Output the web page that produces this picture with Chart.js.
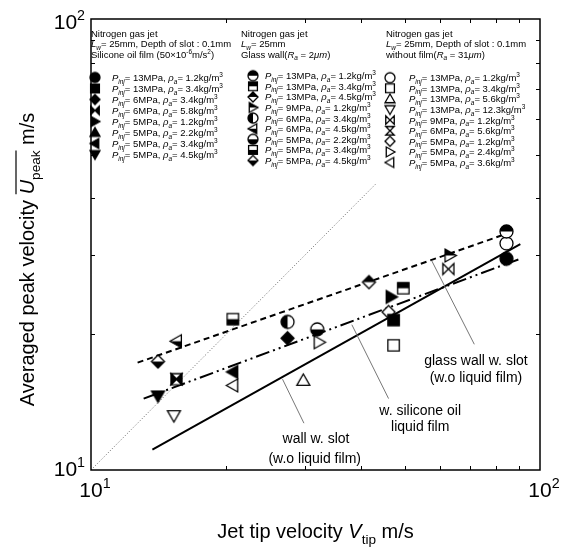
<!DOCTYPE html>
<html>
<head>
<meta charset="utf-8">
<script src="https://cdn.jsdelivr.net/npm/chart.js@4.4.0/dist/chart.umd.min.js"></script>
<style>
  html, body { margin: 0; padding: 0; background: #fff; }
</style>
</head>
<body>
<canvas id="c" width="563" height="548"></canvas>
<script>
// Silicone oil film (filled symbols)
const silPinj = ['13', '13', '6', '6', '5', '5', '5', '5'];
const silRho = ['1.2', '3.4', '3.4', '5.8', '1.2', '2.2', '3.4', '4.5'];
const silVtip = [84.2, 47.2, 27.4, 15.5, 46.6, null, 20.7, 14.1];
const silUpeak = [29.4, 21.5, 19.6, 15.9, 24.2, null, 16.5, 14.6];

// Glass wall (half filled symbols)
const glsPinj = ['13', '13', '13', '9', '6', '6', '5', '5', '5'];
const glsRho = ['1.2', '3.4', '4.5', '1.2', '3.4', '4.5', '2.2', '3.4', '4.5'];
const glsVtip = [84.2, 49.6, 41.6, 63.0, 27.4, 15.5, 31.9, 20.7, 14.1];
const glsUpeak = [33.8, 25.3, 26.1, 29.9, 21.3, 19.3, 20.5, 21.6, 17.4];

// Without film (open symbols)
const wofPinj = ['13', '13', '13', '13', '9', '6', '5', '5', '5'];
const wofRho = ['1.2', '3.4', '5.6', '12.3', '1.2', '5.6', '1.2', '2.4', '3.6'];
const wofVtip = [84.2, 47.2, 29.7, 15.3, 62.5, 15.5, 46.0, 32.2, 20.7];
const wofUpeak = [31.8, 18.9, 15.8, 13.2, 27.9, 15.9, 22.4, 19.2, 15.4];

// fitted lines
const fitGlassX = [12.7, 82.0], fitGlassY = [17.3, 33.1];
const fitSilX = [13.1, 89.5], fitSilY = [14.4, 29.3];
const fitWallX = [13.7, 90.4], fitWallY = [11.1, 31.7];
const parityX = [10, 43], parityY = [10, 43];

// annotation leaders (data coords)
const leadGlassX = [57.4, 71.4], leadGlassY = [29.1, 19.0];
const leadSilX = [38.1, 46.0], leadSilY = [21.0, 14.4];
const leadWallX = [26.7, 29.8], leadWallY = [15.9, 12.7];

const FAM = '"Liberation Sans", Arial, sans-serif';

// symbol shapes per group
const silShapes = [['circle','full'],['square','full'],['diamond','full'],['bowtie','full'],['triRight','full'],['triUp','full'],['triLeft','full'],['triDown','full']];
const glsShapes = [['circle','top'],['square','top'],['diamond','top'],['triRight','top'],['circle','left'],['triLeft','bottom'],['circle','bottom'],['square','bottom'],['diamond','bottom']];
const wofShapes = [['circle','none'],['square','none'],['triUp','none'],['triDown','none'],['bowtie','none'],['hourglass','none'],['diamond','none'],['triRight','none'],['triLeft','none']];

function shapePath(g, shape, m, r) {
  g.beginPath();
  if (shape === 'circle') {
    g.arc(m, m, r, 0, Math.PI * 2);
  } else if (shape === 'square') {
    const a = r * 0.88;
    g.rect(m - a, m - a, 2 * a, 2 * a);
  } else if (shape === 'diamond') {
    g.moveTo(m, m - r); g.lineTo(m + r, m); g.lineTo(m, m + r); g.lineTo(m - r, m); g.closePath();
  } else if (shape === 'triUp') {
    g.moveTo(m, m - r); g.lineTo(m + r, m + r * 0.75); g.lineTo(m - r, m + r * 0.75); g.closePath();
  } else if (shape === 'triDown') {
    g.moveTo(m, m + r); g.lineTo(m + r, m - r * 0.75); g.lineTo(m - r, m - r * 0.75); g.closePath();
  } else if (shape === 'triLeft') {
    g.moveTo(m - r, m); g.lineTo(m + r * 0.75, m - r); g.lineTo(m + r * 0.75, m + r); g.closePath();
  } else if (shape === 'triRight') {
    g.moveTo(m + r, m); g.lineTo(m - r * 0.75, m - r); g.lineTo(m - r * 0.75, m + r); g.closePath();
  } else if (shape === 'bowtie') {
    const a = r * 0.85;
    g.moveTo(m - a, m - a); g.lineTo(m, m); g.lineTo(m - a, m + a); g.closePath();
    g.moveTo(m + a, m - a); g.lineTo(m, m); g.lineTo(m + a, m + a); g.closePath();
  } else if (shape === 'hourglass') {
    const a = r * 0.85;
    g.moveTo(m - a, m - a); g.lineTo(m + a, m - a); g.lineTo(m, m); g.closePath();
    g.moveTo(m - a, m + a); g.lineTo(m + a, m + a); g.lineTo(m, m); g.closePath();
  }
}

function makeMarker(shape, fill, size) {
  const c = document.createElement('canvas');
  c.width = c.height = size + 4;
  const g = c.getContext('2d');
  const m = c.width / 2, r = size / 2;
  shapePath(g, shape, m, r);
  g.fillStyle = fill === 'full' ? '#000' : '#fff';
  g.fill();
  if (fill !== 'full' && fill !== 'none') {
    g.save();
    shapePath(g, shape, m, r);
    g.clip();
    g.fillStyle = '#000';
    if (fill === 'top') g.fillRect(0, 0, c.width, m);
    if (fill === 'bottom') g.fillRect(0, m, c.width, c.height);
    if (fill === 'left') g.fillRect(0, 0, m, c.height);
    g.restore();
  }
  shapePath(g, shape, m, r);
  g.lineWidth = 1.3;
  g.strokeStyle = '#000';
  g.stroke();
  return c;
}

function pointDatasets(xs, ys, shapes) {
  return xs.map((x, i) => ({
    type: 'scatter',
    data: x == null ? [] : [{ x: x, y: ys[i] }],
    pointStyle: makeMarker(shapes[i][0], shapes[i][1], 13),
    order: 0
  }));
}

function lineDataset(xs, ys, dash, width, color) {
  return {
    type: 'line',
    data: xs.map((x, i) => ({ x: x, y: ys[i] })),
    borderColor: color,
    borderWidth: width,
    borderDash: dash,
    pointRadius: 0,
    fill: false,
    order: 5
  };
}

// rich text: segments [text, flags] flags: i italic, b sub, p sup, o overline
function drawRich(ctx, segs, x, y, size, align) {
  const parts = segs.map(([t, f = '']) => {
    const small = f.includes('b') || f.includes('p');
    const fs = small ? size * 0.68 : size;
    const font = (f.includes('i') ? 'italic ' : '') + fs + 'px ' + FAM;
    ctx.font = font;
    return { t, f, font, w: ctx.measureText(t).width,
      dy: f.includes('b') ? size * 0.28 : f.includes('p') ? -size * 0.42 : 0 };
  });
  const total = parts.reduce((a, p) => a + p.w, 0);
  let cx = align === 'center' ? x - total / 2 : align === 'right' ? x - total : x;
  ctx.textAlign = 'left';
  ctx.textBaseline = 'alphabetic';
  parts.forEach(p => {
    ctx.font = p.font;
    ctx.fillText(p.t, cx, y + p.dy);
    if (p.f.includes('o')) {
      ctx.save();
      ctx.lineWidth = 1.2;
      ctx.beginPath();
      ctx.moveTo(cx, y - size * 0.9);
      ctx.lineTo(cx + p.w, y - size * 0.9);
      ctx.stroke();
      ctx.restore();
    }
    cx += p.w;
  });
}

function entrySegs(p, rho) {
  return [['P', 'i'], ['inj', 'ib'], ['= ' + p + 'MPa, ', ''], ['ρ', 'i'], ['a', 'ib'], ['= ' + rho + 'kg/m', ''], ['3', 'p']];
}

const legendCols = [
  { hx: 91, sx: 95, tx: 112, y0: 77.5, dy: 11.0, pinj: silPinj, rho: silRho, shapes: silShapes,
    head: [[['Nitrogen gas jet', '']],
           [['L', 'i'], ['w', 'ib'], ['= 25mm, Depth of slot : 0.1mm', '']],
           [['Silicone oil film (50×10', ''], ['-6', 'p'], ['m/s', ''], ['2', 'p'], [')', '']]] },
  { hx: 241, sx: 253, tx: 265, y0: 75.7, dy: 10.6, pinj: glsPinj, rho: glsRho, shapes: glsShapes,
    head: [[['Nitrogen gas jet', '']],
           [['L', 'i'], ['w', 'ib'], ['= 25mm', '']],
           [['Glass wall(', ''], ['R', 'i'], ['a', 'ib'], [' = 2', ''], ['μm', 'i'], [')', '']]] },
  { hx: 386, sx: 390, tx: 409, y0: 77.7, dy: 10.6, pinj: wofPinj, rho: wofRho, shapes: wofShapes,
    head: [[['Nitrogen gas jet', '']],
           [['L', 'i'], ['w', 'ib'], ['= 25mm, Depth of slot : 0.1mm', '']],
           [['without film(', ''], ['R', 'i'], ['a', 'ib'], [' = 31', ''], ['μm', 'i'], [')', '']]] }
];

const deco = {
  id: 'deco',
  beforeDraw(chart) {
    const ctx = chart.ctx;
    ctx.save();
    ctx.fillStyle = '#fff';
    ctx.fillRect(0, 0, chart.width, chart.height);
    ctx.restore();
  },
  afterDraw(chart) {
    const ctx = chart.ctx;
    const a = chart.chartArea;
    const xs = chart.scales.x, ys = chart.scales.y;
    ctx.save();
    ctx.fillStyle = '#000';
    ctx.strokeStyle = '#000';

    // frame
    ctx.lineWidth = 1.5;
    ctx.strokeRect(a.left, a.top, a.right - a.left, a.bottom - a.top);

    // minor ticks
    ctx.lineWidth = 1;
    for (let v = 20; v <= 90; v += 10) {
      const px = Math.round(xs.getPixelForValue(v)) + 0.5;
      const py = Math.round(ys.getPixelForValue(v)) + 0.5;
      ctx.beginPath();
      ctx.moveTo(px, a.bottom); ctx.lineTo(px, a.bottom - 4);
      ctx.moveTo(px, a.top); ctx.lineTo(px, a.top + 4);
      ctx.moveTo(a.left, py); ctx.lineTo(a.left + 4, py);
      ctx.moveTo(a.right, py); ctx.lineTo(a.right - 4, py);
      ctx.stroke();
    }

    // tick labels
    drawRich(ctx, [['10', ''], ['1', 'p']], xs.getPixelForValue(10) + 4, a.bottom + 27, 21, 'center');
    drawRich(ctx, [['10', ''], ['2', 'p']], xs.getPixelForValue(100) + 4, a.bottom + 27, 21, 'center');
    drawRich(ctx, [['10', ''], ['1', 'p']], a.left - 6, ys.getPixelForValue(10) + 6, 21, 'right');
    drawRich(ctx, [['10', ''], ['2', 'p']], a.left - 6, ys.getPixelForValue(100) + 10, 21, 'right');

    // axis titles
    drawRich(ctx, [['Jet tip velocity ', ''], ['V', 'i'], ['tip', 'b'], [' m/s', '']], (a.left + a.right) / 2, 538, 20, 'center');
    ctx.save();
    ctx.translate(34, (a.top + a.bottom) / 2 + 15);
    ctx.rotate(-Math.PI / 2);
    drawRich(ctx, [['Averaged peak velocity ', ''], ['U', 'io'], ['peak', 'bo'], [' m/s', '']], 0, 0, 20, 'center');
    ctx.restore();

    // leader lines
    ctx.strokeStyle = '#777';
    ctx.lineWidth = 1;
    [[leadGlassX, leadGlassY], [leadSilX, leadSilY], [leadWallX, leadWallY]].forEach(([lx, ly]) => {
      ctx.beginPath();
      ctx.moveTo(xs.getPixelForValue(lx[0]), ys.getPixelForValue(ly[0]));
      ctx.lineTo(xs.getPixelForValue(lx[1]), ys.getPixelForValue(ly[1]));
      ctx.stroke();
    });

    // annotation texts
    ctx.fillStyle = '#000';
    const notes = [
      ['glass wall w. slot', 72.0, 17.5], ['(w.o liquid film)', 72.0, 16.1],
      ['w. silicone oil', 54.1, 13.6], ['liquid film', 54.1, 12.5],
      ['wall w. slot', 31.7, 11.8], ['(w.o liquid film)', 31.5, 10.65]
    ];
    notes.forEach(([t, vx, vy]) => {
      drawRich(ctx, [[t, '']], xs.getPixelForValue(vx), ys.getPixelForValue(vy) + 5, 14, 'center');
    });

    // legend blocks
    legendCols.forEach(col => {
      col.head.forEach((segs, k) => {
        drawRich(ctx, segs, col.hx, a.top + 17.5 + k * 10.5, 9.5, 'left');
      });
      col.pinj.forEach((p, k) => {
        const cy = col.y0 + k * col.dy;
        const mk = makeMarker(col.shapes[k][0], col.shapes[k][1], 10);
        ctx.drawImage(mk, col.sx - mk.width / 2, cy - mk.height / 2);
        drawRich(ctx, entrySegs(p, col.rho[k]), col.tx, cy + 3.5, 9.5, 'left');
      });
    });
    ctx.restore();
  }
};

const datasets = [].concat(
  pointDatasets(silVtip, silUpeak, silShapes),
  pointDatasets(glsVtip, glsUpeak, glsShapes),
  pointDatasets(wofVtip, wofUpeak, wofShapes),
  [
    lineDataset(fitGlassX, fitGlassY, [6, 4], 2, '#000'),
    lineDataset(fitSilX, fitSilY, [14, 4, 2, 4, 2, 4], 2, '#000'),
    lineDataset(fitWallX, fitWallY, [], 2, '#000'),
    lineDataset(parityX, parityY, [1, 2], 1, '#666')
  ]
);

Chart.defaults.font.family = FAM;

new Chart(document.getElementById('c'), {
  type: 'scatter',
  data: { datasets: datasets },
  options: {
    responsive: false,
    animation: false,
    layout: { padding: { left: 83, right: 23, top: 19, bottom: 70 } },
    plugins: { legend: { display: false }, tooltip: { enabled: false } },
    scales: {
      x: { type: 'logarithmic', min: 10, max: 100,
           ticks: { display: false }, grid: { display: false }, border: { display: false } },
      y: { type: 'logarithmic', min: 10, max: 100,
           ticks: { display: false }, grid: { display: false }, border: { display: false } }
    }
  },
  plugins: [deco]
});
</script>
</body>
</html>
